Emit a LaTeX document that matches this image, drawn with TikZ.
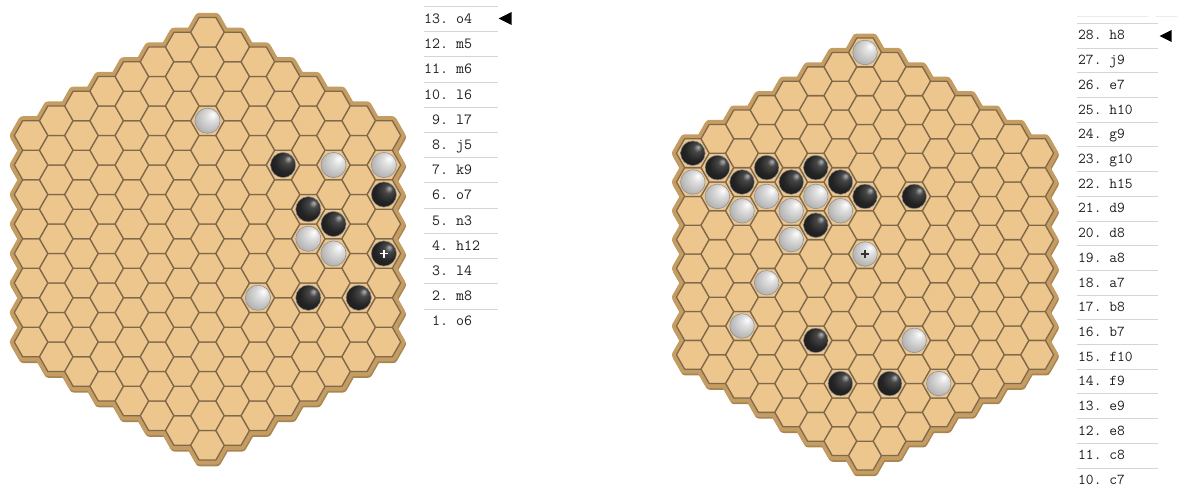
\documentclass[tikz,border=0pt]{standalone}
\usepackage{fontspec}
\usetikzlibrary{positioning,shapes.geometric}
\definecolor{bdFill}{HTML}{EDC68D}
\definecolor{bdLine}{HTML}{80694B}
\definecolor{bdRim}{HTML}{C59D62}
\definecolor{bdShade}{HTML}{A98552}
\definecolor{lsRule}{HTML}{D4D4D4}
\definecolor{lsText}{HTML}{1E1E1E}
\pgfdeclareradialshading{stoneD}{\pgfpoint{11bp}{13bp}}{color(0bp)=(black!30); color(8bp)=(black!72); color(22bp)=(black!86); color(50bp)=(black!93)}
\pgfdeclareradialshading{stoneL}{\pgfpoint{11bp}{13bp}}{color(0bp)=(white); color(10bp)=(black!12); color(30bp)=(black!30); color(50bp)=(black!46)}
% one flat-topped cell, from its centre
\newcommand\hexcell{++(16.8,0) -- ++(-8.4,14.75) -- ++(-16.8,0) -- ++(-8.4,-14.75) -- ++(8.4,-14.75) -- ++(16.8,0) -- cycle}
\newcommand\hvpass[1]{\foreach \cc in {0,...,14}{\pgfmathtruncatemacro\ncell{15-abs(\cc-7)}
    \foreach \kk in {1,...,\ncell}{\draw[#1] ({(\cc-7)*25.2},{(\kk-(\ncell+1)/2)*29.5}) \hexcell;}}}
\newcommand\hvstones[1]{\foreach \cc/\kk/\kind in {#1}{\pgfmathtruncatemacro\ncell{15-abs(\cc-7)}
    \shade[shading=stone\kind,draw=black!45,line width=0.5pt] ({(\cc-7)*25.2},{(\kk-(\ncell+1)/2)*29.5}) circle (12.6);}}

\begin{document}
\begin{tikzpicture}[x=1pt,y=1pt,
    rimshadow/.style={fill=bdShade,draw=bdShade,line width=9pt,line join=round,shift={(0.8,-1.8)}},
    rim/.style={fill=bdRim,draw=bdRim,line width=9pt,line join=round},
    cell/.style={fill=bdFill,draw=bdLine,line width=1.3pt,line join=round},
    entry/.style={anchor=base west,inner sep=0,text=lsText,font=\ttfamily\fontsize{15.5}{18}\selectfont},
    rule/.style={lsRule,line width=0.8pt},
    curmove/.style={isosceles triangle,isosceles triangle stretches,shape border rotate=180,
      fill=black,inner sep=0,minimum width=13pt,minimum height=13pt}]
  \useasboundingbox (0,0) rectangle (1177,-489);

  % left game
  \begin{scope}[shift={(207.5,-238.75)}]
    \hvpass{rimshadow}\hvpass{rim}\hvpass{cell}
    \hvstones{14/6/D,11/4/D,13/3/D,10/9/D,11/7/D,12/6/D,14/4/D,
              12/8/L,7/12/L,14/7/L,9/5/L,11/6/L,12/5/L}
    \draw[white,line width=1.6pt] (172.4,-14.75) -- (180.4,-14.75) (176.4,-18.75) -- (176.4,-10.75);
  \end{scope}
  \foreach \m [count=\i from 0] in {13.~o4,12.~m5,11.~m6,10.~l6,\hphantom{0}9.~l7,\hphantom{0}8.~j5,
      \hphantom{0}7.~k9,\hphantom{0}6.~o7,\hphantom{0}5.~n3,\hphantom{0}4.~h12,\hphantom{0}3.~l4,
      \hphantom{0}2.~m8,\hphantom{0}1.~o6}{
    \draw[rule] (424,{-6.5-25.2*\i}) -- (498,{-6.5-25.2*\i});
    \node[entry] (lm\i) at (424,{-23.5-25.2*\i}) {\m};
  }
  \node[curmove] (lcur) at (507.5,-18.5) {};

  % right game
  \begin{scope}[shift={(865,-254)},scale=0.976]
    \hvpass{rimshadow}\hvpass{rim}\hvpass{cell}
    \hvstones{0/8/D,1/8/D,2/8/D,3/9/D,4/9/D,5/10/D,6/10/D,7/10/D,9/9/D,5/8/D,5/4/D,6/3/D,8/3/D,
              7/15/L,0/7/L,1/7/L,2/7/L,3/8/L,4/8/L,5/9/L,6/9/L,4/7/L,7/8/L,3/5/L,2/3/L,9/4/L,10/2/L}
    \draw[black!80,line width=1.6pt] (-4,0) -- (4,0) (0,-4) -- (0,4);
  \end{scope}
  \draw[rule,black!8] (1077,-16) -- (1148,-16) (1156,-16) -- (1177,-16);
  \foreach \m [count=\i from 0] in {28.~h8,27.~j9,26.~e7,25.~h10,24.~g9,23.~g10,22.~h15,21.~d9,
      20.~d8,19.~a8,18.~a7,17.~b8,16.~b7,15.~f10,14.~f9,13.~e9,12.~e8,11.~c8,10.~c7}{
    \draw[rule] (1077,{-23.3-24.7*\i}) -- (1158,{-23.3-24.7*\i});
    \node[entry,font=\ttfamily\fontsize{15.1}{18}\selectfont] (rm\i) at (1078,{-40-24.7*\i}) {\m};
  }
  \node[curmove,minimum width=12pt,minimum height=12pt] (rcur) at (1168,-36) {};
\end{tikzpicture}
\end{document}
